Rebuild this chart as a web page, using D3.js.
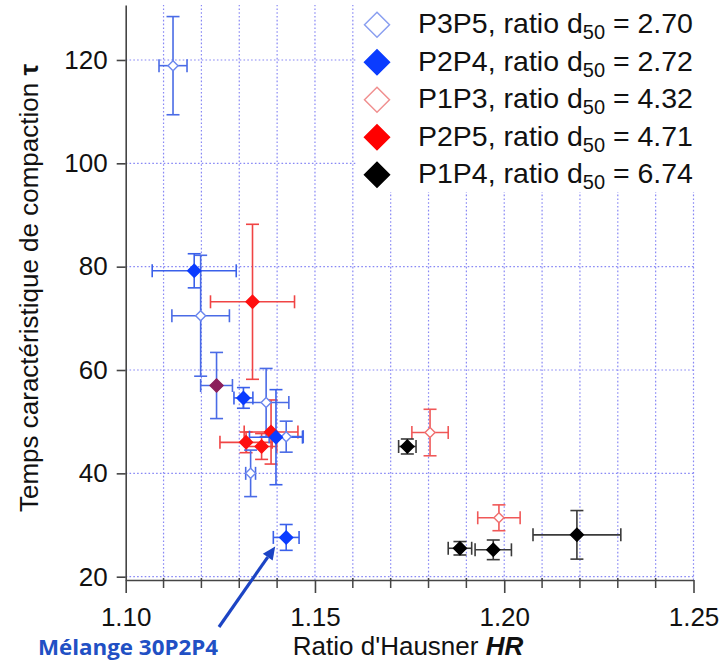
<!DOCTYPE html>
<html>
<head>
<meta charset="utf-8">
<script src="https://cdn.jsdelivr.net/npm/d3@7"></script>
<style>
  html, body { margin: 0; padding: 0; background: #fff; }
  svg { display: block; }
</style>
</head>
<body>
<svg id="chart" width="724" height="663"></svg>
<script>
// ---------- DATA ----------
// each row: [Hausner ratio HR, tau, HR error, tau error]
const seriesNames = ["P3P5", "P2P4", "P1P3", "P2P5", "P1P4"];
const d50Ratios   = ["2.70", "2.72", "4.32", "4.71", "6.74"];

const p3p5 = [
  [1.1125, 118.9, 0.0037, 9.5],
  [1.1198, 70.5, 0.0076, 11.7],
  [1.1371, 53.7, 0.0060, 6.6],
  [1.1424, 47.1, 0.0045, 3.0],
  [1.1330, 40.0, 0.0013, 4.5]
];
const p2p4 = [
  [1.1181, 79.2, 0.0111, 3.3],
  [1.1311, 54.6, 0.0025, 2.0],
  [1.1397, 47.0, 0.0070, 9.2],
  [1.1424, 27.6, 0.0034, 2.5]
];
const p2p4Overlap = [
  [1.1240, 57.0, 0.0042, 6.4]
];
const p1p3 = [
  [1.1804, 47.9, 0.0048, 4.5],
  [1.1986, 31.4, 0.0056, 2.5]
];
const p2p5 = [
  [1.1335, 73.2, 0.0111, 15.0],
  [1.1384, 48.0, 0.0071, 6.2],
  [1.1318, 46.0, 0.0069, 2.0],
  [1.1359, 45.2, 0.0040, 2.5]
];
const p1p4 = [
  [1.1744, 45.2, 0.0023, 1.45],
  [1.1883, 25.5, 0.0031, 1.3],
  [1.1971, 25.2, 0.0048, 1.9],
  [1.2192, 28.1, 0.0116, 4.7]
];

const xTicks = [1.10, 1.15, 1.20, 1.25];
const xMinorTicks = [1.11,1.12,1.13,1.14,1.16,1.17,1.18,1.19,1.21,1.22,1.23,1.24];
const yTicks = [20, 40, 60, 80, 100, 120];
const annotationText = "Mélange 30P2P4";
const annotatedPoint = p2p4[3];

// ---------- STYLES ----------
const FONT = "'Liberation Sans', Arial, Helvetica, sans-serif";
const styles = {
  P3P5: { fill: "#ffffff", stroke: "#6b87ee", bar: "#4a6be6", r: 5, legFill: "#ffffff", legStroke: "#8a9ff0" },
  P2P4: { fill: "#0b3cff", stroke: "#0b3cff", bar: "#3a60ea", r: 6.5, legFill: "#0b3cff", legStroke: "#0b3cff" },
  P1P3: { fill: "#ffffff", stroke: "#f07070", bar: "#f05858", r: 5, legFill: "#ffffff", legStroke: "#f09090" },
  P2P5: { fill: "#ff1010", stroke: "#ff1010", bar: "#f04444", r: 6.5, legFill: "#ff0000", legStroke: "#ff0000" },
  P1P4: { fill: "#000000", stroke: "#000000", bar: "#3a3a3a", r: 6.5, legFill: "#000000", legStroke: "#000000" },
  MIX:  { fill: "#8c1f5a", stroke: "#8c1f5a", bar: "#4a6be6", r: 6.5 }
};

// ---------- SCALES ----------
const svg = d3.select("#chart");
const x = d3.scaleLinear().domain([1.10, 1.25]).range([125.7, 693.5]);
const y = d3.scaleLinear().domain([19.36, 130.64]).range([580, 5]);

// ---------- GRID ----------
const grid = svg.append("g").attr("class", "grid")
  .attr("stroke", "#7474f4").attr("stroke-width", 1.2)
  .attr("stroke-dasharray", "1.6,2.2").attr("opacity", 0.85);
grid.selectAll("line.v").data(xMinorTicks.concat([1.15, 1.20, 1.25])).enter().append("line")
  .attr("class", "v")
  .attr("x1", d => x(d)).attr("x2", d => x(d))
  .attr("y1", y.range()[0]).attr("y2", y.range()[1]);
grid.selectAll("line.h").data(yTicks).enter().append("line")
  .attr("class", "h")
  .attr("x1", x.range()[0]).attr("x2", x.range()[1])
  .attr("y1", d => y(d)).attr("y2", d => y(d));

// legend background (covers the grid)
svg.append("rect").attr("x", 357).attr("y", 0).attr("width", 367).attr("height", 192).attr("fill", "#fff");

// ---------- AXES ----------
const axisColor = "#454545";
const xAxis = svg.append("g").attr("transform", `translate(0,${y.range()[0]})`)
  .call(d3.axisBottom(x).tickValues(xTicks).tickSize(13).tickSizeOuter(0).tickPadding(15)
    .tickFormat(d3.format(".2f")));
xAxis.selectAll("path,line").attr("stroke", axisColor).attr("stroke-width", 1.6);
xAxis.selectAll("text").attr("font-family", FONT).attr("font-size", 26).attr("fill", "#111");
// minor ticks
svg.append("g").selectAll("line").data(xMinorTicks).enter().append("line")
  .attr("x1", d => x(d)).attr("x2", d => x(d))
  .attr("y1", y.range()[0] - 2).attr("y2", y.range()[0] + 8)
  .attr("stroke", axisColor).attr("stroke-width", 1.5);

const yAxis = svg.append("g").attr("transform", `translate(${x.range()[0]},0)`)
  .call(d3.axisLeft(y).tickValues(yTicks).tickSize(9).tickSizeOuter(0).tickPadding(9));
yAxis.selectAll("path,line").attr("stroke", axisColor).attr("stroke-width", 1.6);
yAxis.selectAll("text").attr("font-family", FONT).attr("font-size", 26).attr("fill", "#111");

// axis titles
const xt = svg.append("text").attr("x", 408).attr("y", 655).attr("text-anchor", "middle")
  .attr("font-family", FONT).attr("font-size", 26).attr("fill", "#111");
xt.append("tspan").text("Ratio d'Hausner ");
xt.append("tspan").attr("font-weight", "bold").attr("font-style", "italic").text("HR");

const yt = svg.append("text").attr("transform", "translate(38,288) rotate(-90)")
  .attr("text-anchor", "middle").attr("font-family", FONT).attr("font-size", 26).attr("fill", "#111");
yt.append("tspan").text("Temps caractéristique de compaction ");
yt.append("tspan").attr("font-weight", "bold").text("τ");

// ---------- DATA MARKS ----------
const diamond = (cx, cy, r) => `M${cx},${cy - r}L${cx + r},${cy}L${cx},${cy + r}L${cx - r},${cy}Z`;
const CAP = 6.5;

function drawBars(data, st) {
  const g = svg.append("g").attr("stroke", st.bar).attr("stroke-width", 1.6).attr("fill", "none");
  data.forEach(d => {
    const cx = x(d[0]), cy = y(d[1]);
    const x0 = x(d[0] - d[2]), x1 = x(d[0] + d[2]);
    const y0 = y(d[1] - d[3]), y1 = y(d[1] + d[3]);
    g.append("line").attr("x1", x0).attr("x2", x1).attr("y1", cy).attr("y2", cy);
    g.append("line").attr("x1", cx).attr("x2", cx).attr("y1", y0).attr("y2", y1);
    g.append("line").attr("x1", x0).attr("x2", x0).attr("y1", cy - CAP).attr("y2", cy + CAP);
    g.append("line").attr("x1", x1).attr("x2", x1).attr("y1", cy - CAP).attr("y2", cy + CAP);
    g.append("line").attr("x1", cx - CAP).attr("x2", cx + CAP).attr("y1", y0).attr("y2", y0);
    g.append("line").attr("x1", cx - CAP).attr("x2", cx + CAP).attr("y1", y1).attr("y2", y1);
  });
}
function drawMarkers(data, st) {
  svg.append("g").selectAll("path").data(data).enter().append("path")
    .attr("d", d => diamond(x(d[0]), y(d[1]), st.r))
    .attr("fill", st.fill).attr("stroke", st.stroke).attr("stroke-width", 1.4);
}

const order = [
  [p1p3, styles.P1P3], [p2p5, styles.P2P5], [p3p5, styles.P3P5],
  [p2p4, styles.P2P4], [p2p4Overlap, styles.MIX], [p1p4, styles.P1P4]
];
order.forEach(([d, st]) => drawBars(d, st));
order.forEach(([d, st]) => drawMarkers(d, st));

// ---------- LEGEND ----------
const leg = svg.append("g");
seriesNames.forEach((name, i) => {
  const st = styles[name];
  const base = 33.3 + i * 37.5;
  leg.append("path").attr("d", diamond(377, base - 8.5, 12.5))
    .attr("fill", st.legFill).attr("stroke", st.legStroke).attr("stroke-width", 1.5);
  const t = leg.append("text").attr("x", 418).attr("y", base)
    .attr("font-family", FONT).attr("font-size", 28.5).attr("fill", "#111");
  t.append("tspan").text(`${name}, ratio d`);
  t.append("tspan").attr("font-size", 20).attr("dy", 6).text("50");
  t.append("tspan").attr("dy", -6).text(` = ${d50Ratios[i]}`);
});

// ---------- ANNOTATION ----------
const tipX = x(annotatedPoint[0]) - 11, tipY = y(annotatedPoint[1]) + 9;
const startX = 219, startY = 627;
const ang = Math.atan2(tipY - startY, tipX - startX);
const ah = 13, aw = 6;
const bx = tipX - ah * Math.cos(ang), by = tipY - ah * Math.sin(ang);
svg.append("line").attr("x1", startX).attr("y1", startY).attr("x2", bx).attr("y2", by)
  .attr("stroke", "#1c44c4").attr("stroke-width", 3.2);
svg.append("path")
  .attr("d", `M${tipX},${tipY}L${bx + aw * Math.sin(ang)},${by - aw * Math.cos(ang)}L${bx - aw * Math.sin(ang)},${by + aw * Math.cos(ang)}Z`)
  .attr("fill", "#1c44c4");
svg.append("text").attr("x", 38).attr("y", 655)
  .attr("font-family", "'Open Sans', 'Noto Sans', sans-serif").attr("font-weight", "bold")
  .attr("font-size", 21).attr("textLength", 180).attr("lengthAdjust", "spacingAndGlyphs")
  .attr("fill", "#2150c4").text(annotationText);
</script>
</body>
</html>
